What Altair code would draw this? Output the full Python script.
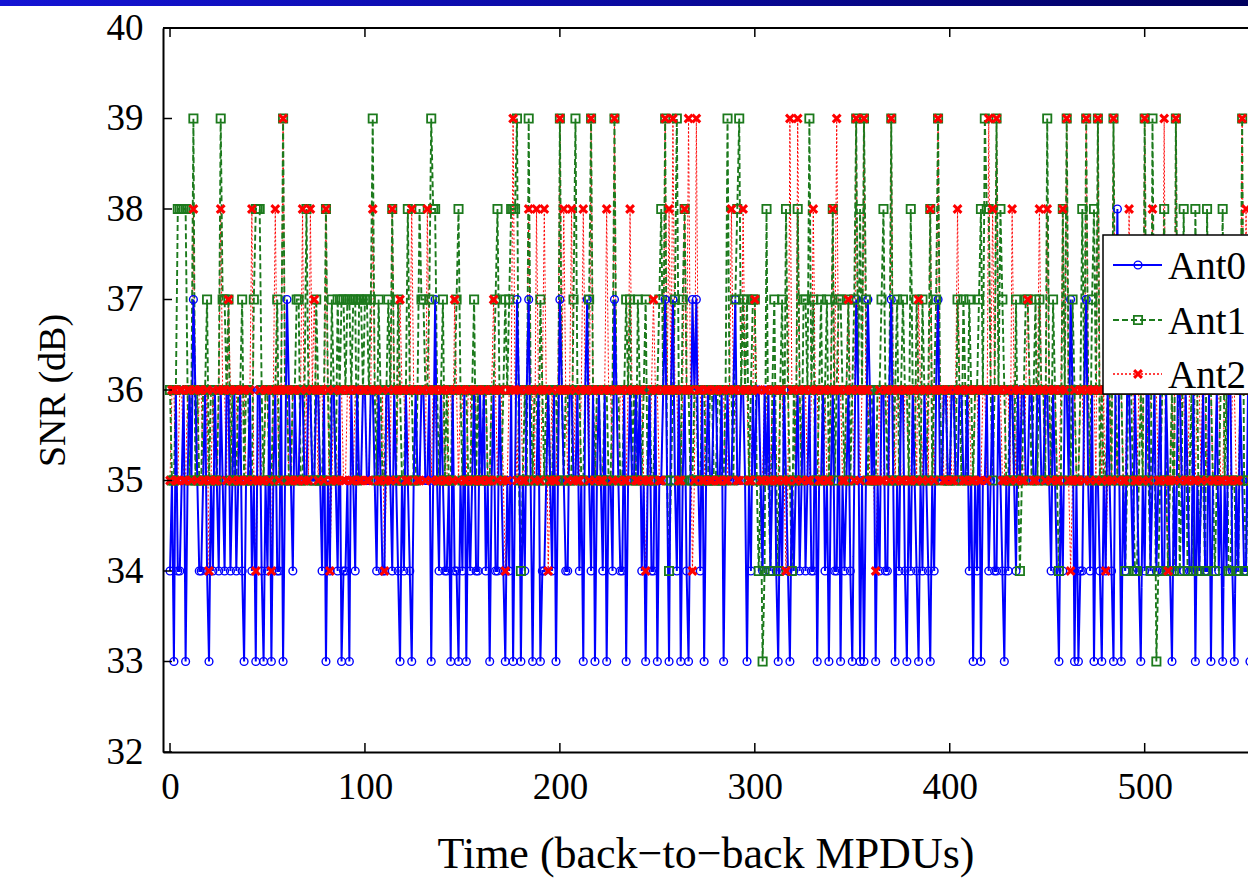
import altair as alt
import pandas as pd

# ---------------- data (SNR in dB, one sample per MPDU) -------------
SAMPLE_STEP = 1

ANT0 = [
    34, 35, 33, 36, 34, 34, 35, 36, 33, 35, 36, 35, 37, 36, 35, 34, 34, 35, 36, 34, 33, 35, 34, 36, 35, 34, 36, 35, 34, 36, 36, 34, 35, 36, 34, 35, 36, 34, 33, 35,
    35, 36, 34, 35, 33, 36, 36, 34, 33, 35, 34, 36, 33, 35, 36, 34, 34, 36, 33, 35, 37, 36, 35, 34, 36, 35, 35, 36, 36, 35, 35, 36, 36, 35, 35, 36, 36, 35, 34, 36,
    33, 35, 34, 36, 36, 35, 34, 36, 33, 34, 34, 35, 33, 36, 35, 34, 36, 35, 35, 36, 36, 35, 35, 36, 36, 35, 34, 36, 35, 34, 34, 36, 36, 35, 34, 36, 35, 34, 33, 35,
    34, 36, 35, 34, 33, 35, 36, 35, 35, 36, 36, 35, 35, 36, 33, 35, 37, 35, 34, 36, 35, 34, 34, 35, 33, 36, 34, 34, 33, 35, 34, 36, 33, 35, 34, 35, 36, 34, 34, 36,
    35, 36, 34, 35, 33, 35, 36, 34, 34, 36, 35, 34, 33, 35, 34, 36, 33, 35, 37, 36, 33, 35, 34, 36, 37, 35, 33, 35, 35, 36, 33, 34, 34, 35, 36, 35, 34, 36, 33, 35,
    37, 36, 35, 34, 34, 36, 36, 35, 35, 36, 34, 35, 33, 36, 37, 35, 34, 36, 33, 35, 36, 35, 34, 36, 33, 35, 35, 34, 37, 36, 35, 34, 34, 36, 33, 35, 36, 35, 35, 36,
    35, 36, 34, 35, 33, 35, 36, 34, 34, 36, 33, 35, 35, 36, 37, 35, 33, 36, 37, 35, 34, 36, 33, 35, 36, 34, 33, 35, 37, 36, 37, 35, 34, 36, 33, 35, 36, 35, 35, 36,
    36, 35, 35, 36, 33, 35, 36, 35, 35, 36, 37, 35, 35, 36, 36, 35, 33, 35, 34, 36, 35, 36, 36, 35, 34, 36, 35, 36, 34, 35, 36, 34, 33, 35, 34, 36, 35, 34, 33, 35,
    34, 35, 36, 34, 35, 36, 34, 35, 36, 34, 34, 36, 33, 35, 35, 36, 34, 35, 33, 35, 36, 34, 34, 36, 33, 35, 34, 35, 36, 34, 33, 35, 37, 36, 33, 35, 33, 35, 37, 36,
    35, 36, 33, 35, 34, 36, 36, 34, 34, 36, 37, 35, 33, 35, 34, 36, 36, 34, 33, 35, 34, 36, 35, 34, 33, 35, 34, 36, 35, 34, 33, 35, 34, 36, 37, 35, 35, 36, 36, 35,
    35, 36, 36, 35, 35, 36, 36, 35, 35, 36, 34, 35, 33, 35, 34, 36, 33, 35, 35, 36, 34, 35, 36, 34, 34, 36, 35, 34, 33, 35, 34, 36, 36, 35, 34, 36, 35, 36, 36, 35,
    35, 36, 36, 35, 35, 36, 36, 35, 35, 36, 36, 35, 34, 36, 35, 34, 33, 35, 34, 36, 36, 35, 37, 36, 33, 35, 33, 34, 34, 36, 37, 35, 34, 36, 33, 35, 35, 34, 33, 35,
    34, 36, 35, 34, 33, 36, 38, 35, 33, 35, 34, 36, 36, 35, 34, 36, 35, 34, 33, 35, 34, 36, 36, 34, 35, 36, 34, 35, 36, 34, 34, 36, 35, 34, 33, 35, 34, 36, 36, 35,
    34, 36, 35, 34, 34, 36, 33, 35, 34, 35, 36, 34, 34, 36, 33, 35, 35, 36, 34, 35, 33, 35, 34, 36, 36, 34, 33, 35, 34, 36, 35, 34, 34, 36, 33, 35, 34, 36, 35, 34,
]

ANT1 = [
    36, 35, 35, 36, 38, 38, 38, 38, 38, 36, 35, 36, 39, 35, 36, 35, 35, 36, 36, 37, 35, 36, 36, 35, 35, 36, 39, 37, 37, 36, 37, 35, 36, 35, 35, 36, 36, 37, 35, 36,
    36, 35, 35, 37, 38, 38, 38, 36, 35, 36, 36, 35, 35, 36, 36, 37, 35, 36, 39, 36, 36, 35, 35, 36, 36, 37, 37, 35, 35, 36, 38, 36, 36, 35, 35, 37, 36, 35, 35, 36,
    38, 36, 35, 37, 36, 35, 37, 36, 37, 37, 36, 37, 37, 36, 37, 37, 35, 37, 37, 36, 37, 37, 36, 37, 39, 36, 35, 37, 36, 35, 35, 36, 37, 36, 38, 36, 35, 37, 36, 35,
    35, 36, 38, 36, 36, 35, 35, 36, 38, 37, 37, 36, 36, 37, 39, 38, 38, 36, 35, 36, 37, 35, 36, 35, 35, 36, 36, 37, 38, 36, 35, 36, 36, 35, 35, 36, 37, 35, 36, 35,
    35, 36, 36, 35, 35, 36, 36, 37, 38, 36, 35, 36, 37, 36, 37, 38, 38, 38, 39, 35, 34, 35, 36, 35, 39, 36, 35, 36, 36, 35, 37, 36, 35, 36, 36, 35, 35, 36, 36, 35,
    39, 36, 35, 36, 36, 35, 35, 37, 39, 36, 36, 35, 35, 36, 36, 37, 39, 36, 35, 36, 36, 35, 35, 36, 36, 35, 35, 36, 39, 36, 36, 35, 35, 36, 37, 36, 37, 35, 36, 35,
    37, 36, 35, 36, 37, 35, 36, 35, 35, 36, 36, 37, 38, 36, 39, 35, 34, 35, 36, 37, 39, 36, 35, 37, 38, 36, 36, 35, 35, 36, 36, 35, 35, 36, 36, 35, 35, 36, 36, 35,
    35, 36, 36, 35, 35, 36, 39, 36, 36, 35, 37, 38, 39, 36, 37, 36, 37, 35, 36, 37, 37, 35, 34, 35, 33, 34, 38, 35, 34, 36, 37, 35, 34, 36, 37, 35, 38, 36, 35, 34,
    36, 35, 38, 36, 35, 37, 37, 36, 39, 36, 37, 35, 35, 36, 37, 35, 36, 37, 35, 36, 38, 35, 36, 37, 37, 36, 35, 36, 37, 35, 36, 37, 39, 36, 38, 36, 39, 37, 35, 36,
    36, 35, 35, 36, 36, 37, 38, 36, 35, 36, 39, 35, 36, 37, 35, 36, 37, 36, 36, 35, 38, 36, 35, 37, 36, 35, 37, 36, 35, 36, 38, 35, 36, 37, 39, 36, 35, 36, 36, 35,
    35, 36, 36, 35, 37, 36, 35, 37, 36, 35, 37, 36, 35, 36, 36, 37, 38, 36, 39, 38, 38, 36, 35, 36, 39, 36, 38, 37, 36, 35, 35, 36, 36, 35, 37, 35, 34, 35, 36, 37,
    37, 36, 35, 36, 37, 35, 37, 36, 36, 35, 39, 36, 35, 37, 36, 35, 34, 35, 38, 36, 39, 36, 35, 37, 36, 35, 35, 36, 38, 36, 39, 36, 35, 37, 38, 36, 39, 35, 36, 35,
    35, 36, 36, 35, 39, 36, 35, 36, 36, 35, 34, 35, 37, 36, 35, 34, 34, 35, 36, 35, 39, 36, 35, 34, 39, 36, 33, 34, 35, 36, 38, 35, 34, 35, 36, 34, 39, 36, 34, 35,
    38, 36, 34, 35, 36, 34, 38, 36, 34, 35, 35, 34, 38, 36, 36, 35, 34, 35, 35, 36, 38, 35, 36, 34, 34, 35, 35, 34, 34, 36, 39, 35, 34, 35, 36, 34, 35, 36, 34, 35,
]

ANT2 = [
    35, 36, 36, 35, 35, 36, 36, 35, 35, 36, 36, 35, 38, 36, 35, 36, 36, 35, 35, 36, 34, 35, 36, 35, 35, 36, 38, 36, 36, 35, 37, 36, 35, 36, 36, 35, 35, 36, 36, 35,
    35, 36, 38, 35, 34, 35, 36, 35, 35, 36, 36, 35, 34, 36, 38, 36, 35, 36, 39, 36, 36, 35, 35, 36, 36, 35, 35, 36, 38, 35, 36, 35, 38, 36, 37, 36, 35, 36, 36, 35,
    38, 36, 34, 35, 36, 35, 35, 36, 36, 35, 35, 36, 36, 35, 35, 36, 36, 35, 35, 36, 36, 35, 35, 36, 38, 36, 36, 35, 35, 36, 34, 35, 36, 35, 38, 36, 35, 36, 37, 36,
    36, 35, 35, 36, 38, 36, 36, 35, 35, 36, 36, 35, 38, 36, 35, 36, 36, 35, 35, 36, 36, 35, 35, 36, 36, 35, 37, 36, 35, 36, 36, 35, 35, 36, 36, 35, 35, 36, 36, 35,
    35, 36, 36, 35, 35, 36, 37, 36, 35, 36, 36, 35, 34, 35, 36, 36, 39, 36, 35, 36, 36, 35, 35, 36, 38, 36, 36, 35, 38, 36, 35, 36, 38, 36, 34, 35, 36, 35, 35, 36,
    39, 36, 38, 36, 35, 36, 38, 35, 36, 35, 35, 36, 38, 36, 36, 35, 39, 36, 35, 36, 36, 35, 35, 36, 38, 36, 36, 35, 39, 36, 35, 36, 36, 35, 35, 36, 38, 36, 36, 35,
    35, 36, 36, 35, 34, 35, 35, 36, 37, 36, 36, 35, 35, 36, 39, 36, 38, 36, 39, 36, 36, 35, 35, 36, 38, 36, 39, 36, 34, 35, 39, 36, 36, 35, 35, 36, 36, 35, 35, 36,
    36, 35, 35, 36, 36, 35, 35, 36, 38, 36, 36, 35, 35, 36, 38, 36, 36, 35, 35, 36, 37, 36, 36, 35, 35, 36, 36, 35, 35, 36, 36, 35, 35, 36, 36, 35, 34, 35, 39, 36,
    36, 35, 39, 36, 35, 36, 36, 35, 35, 36, 38, 36, 36, 35, 35, 36, 36, 35, 35, 36, 38, 36, 39, 36, 36, 35, 35, 36, 37, 36, 36, 35, 39, 36, 35, 36, 39, 36, 36, 35,
    35, 35, 34, 35, 36, 35, 35, 36, 36, 35, 39, 36, 35, 36, 36, 35, 35, 36, 36, 35, 35, 36, 36, 35, 37, 36, 35, 36, 36, 35, 38, 36, 35, 36, 39, 36, 36, 35, 35, 36,
    36, 35, 35, 36, 38, 36, 36, 35, 35, 36, 36, 35, 35, 36, 36, 35, 35, 36, 36, 35, 39, 36, 38, 36, 39, 36, 36, 35, 35, 36, 36, 35, 38, 36, 35, 36, 36, 35, 35, 36,
    37, 36, 36, 35, 35, 36, 38, 36, 36, 35, 38, 36, 35, 36, 36, 35, 35, 36, 38, 36, 39, 35, 34, 35, 36, 35, 35, 36, 36, 35, 39, 36, 35, 36, 36, 35, 39, 36, 35, 36,
    34, 35, 36, 35, 39, 36, 35, 36, 36, 35, 35, 36, 38, 36, 36, 35, 35, 36, 36, 35, 39, 36, 35, 36, 38, 36, 36, 35, 35, 36, 39, 35, 34, 35, 36, 35, 39, 36, 35, 36,
    36, 35, 35, 36, 36, 35, 35, 36, 36, 35, 37, 36, 35, 36, 36, 35, 35, 36, 36, 35, 35, 36, 36, 35, 35, 36, 36, 35, 35, 36, 39, 36, 38, 36, 36, 35, 35, 36, 36, 35,
]

SERIES_NAMES = ["Ant0", "Ant1", "Ant2"]
X_TICKS = [0, 100, 200, 300, 400, 500]
Y_TICKS = [32, 33, 34, 35, 36, 37, 38, 39, 40]

# ---------------- styling -------------
FONT = "Liberation Serif"
W, H = 1085, 724
X_DOMAIN = [-3.6, 553]
Y_DOMAIN = [32, 40]
BLUE, GREEN, RED = "#0000ff", "#1c7a1c", "#ff0000"
X_PATH = "M-1,-1L1,1M-1,1L1,-1"

STYLES = [
    dict(color=BLUE, width=2.0, dash=[1, 0], shape="circle", size=60, sw=1.4),
    dict(color=GREEN, width=1.9, dash=[6, 3], shape="square", size=68, sw=1.8),
    dict(color=RED, width=1.0, dash=[2, 2], shape=X_PATH, size=60, sw=3.0),
]
B_ST, G_ST, R_ST = STYLES


def frame(vals):
    return pd.DataFrame({"t": [i * SAMPLE_STEP for i in range(len(vals))], "snr": vals})


xscale = alt.Scale(domain=X_DOMAIN, nice=False, zero=False)
yscale = alt.Scale(domain=Y_DOMAIN, nice=False, zero=False)
xaxis = alt.Axis(values=X_TICKS, title="Time (back\u2212to\u2212back MPDUs)", ticks=False, grid=False,
                 labelPadding=17, titlePadding=27, format="d", titleFontSize=44)
yaxis = alt.Axis(values=Y_TICKS, title="SNR (dB)", ticks=False, grid=False,
                 labelPadding=20, titlePadding=34, format="d", titleFontSize=38)
X = alt.X("t:Q", scale=xscale, axis=xaxis)
Y = alt.Y("snr:Q", scale=yscale, axis=yaxis)

d0, d1, d2 = frame(ANT0), frame(ANT1), frame(ANT2)


def line(df, st):
    return alt.Chart(df).mark_line(color=st["color"], strokeWidth=st["width"],
                                   strokeDash=st["dash"], clip=True).encode(x=X, y=Y)


def points(df, st):
    return alt.Chart(df).mark_point(shape=st["shape"], filled=False, size=st["size"],
                                    strokeWidth=st["sw"], color=st["color"], opacity=1,
                                    clip=True).encode(x=X, y=Y)


data_layers = [line(d2, R_ST), line(d1, G_ST), line(d0, B_ST),
               points(d0, B_ST), points(d1, G_ST), points(d2, R_ST)]

# inward ticks and frame
xt = pd.DataFrame({"t": X_TICKS})
yt = pd.DataFrame({"snr": Y_TICKS})
bottom_ticks = alt.Chart(xt).mark_rule(color="black", strokeWidth=1.5).encode(
    x=X, y=alt.value(H), y2=alt.value(H - 9))
top_ticks = alt.Chart(xt).mark_rule(color="black", strokeWidth=1.5).encode(
    x=X, y=alt.value(0), y2=alt.value(9))
left_ticks = alt.Chart(yt).mark_rule(color="black", strokeWidth=1.5).encode(
    y=Y, x=alt.value(0), x2=alt.value(9))
dummy = pd.DataFrame({"k": [0]})
top_border = alt.Chart(dummy).mark_rule(color="black", strokeWidth=2).encode(
    x=alt.value(0), x2=alt.value(W), y=alt.value(0))

# header banner of the slide
banner = alt.Chart(dummy).mark_rect(
    fill=alt.Gradient(gradient="linear",
                      stops=[alt.GradientStop(color="#1414d4", offset=0),
                             alt.GradientStop(color="#0a0aa0", offset=0.5),
                             alt.GradientStop(color="#00005e", offset=1)],
                      x1=0, x2=1, y1=0, y2=0)
).encode(x=alt.value(-163), x2=alt.value(W), y=alt.value(-28), y2=alt.value(-22))

# legend (box partly cut off by the right edge, as in the reference)
LEG_Y = [237, 292, 346]
legend_box = alt.Chart(dummy).mark_rect(fill="white", stroke="black", strokeWidth=1.5).encode(
    x=alt.value(940), x2=alt.value(1300), y=alt.value(207), y2=alt.value(366))
leg_layers = [legend_box]
for name, ly, st in zip(SERIES_NAMES, LEG_Y, STYLES):
    leg_layers.append(alt.Chart(dummy).mark_rule(color=st["color"], strokeWidth=max(st["width"], 1.6),
                                                 strokeDash=st["dash"]).encode(
        x=alt.value(950), x2=alt.value(999), y=alt.value(ly)))
    leg_layers.append(alt.Chart(dummy).mark_point(shape=st["shape"], filled=False, size=st["size"],
                                                  strokeWidth=st["sw"], color=st["color"],
                                                  opacity=1).encode(
        x=alt.value(975), y=alt.value(ly)))
    leg_layers.append(alt.Chart(dummy).mark_text(align="left", baseline="middle", font=FONT,
                                                 fontSize=39, color="black").encode(
        x=alt.value(1005), y=alt.value(ly + 2), text=alt.value(name)))

chart = alt.layer(
    *data_layers, bottom_ticks, top_ticks, left_ticks, top_border, banner, *leg_layers
).properties(
    width=W, height=H,
    autosize=alt.AutoSizeParams(type="none"),
    padding={"left": 163, "top": 28, "right": 0, "bottom": 132},
    background="white",
).configure_view(stroke=None).configure_axis(
    labelFont=FONT, titleFont=FONT, labelFontSize=37,
    titleFontWeight="normal", labelColor="black", titleColor="black",
    domainColor="black", domainWidth=2,
)

chart.save("out.html", embed_options={"renderer": "svg", "actions": False})
